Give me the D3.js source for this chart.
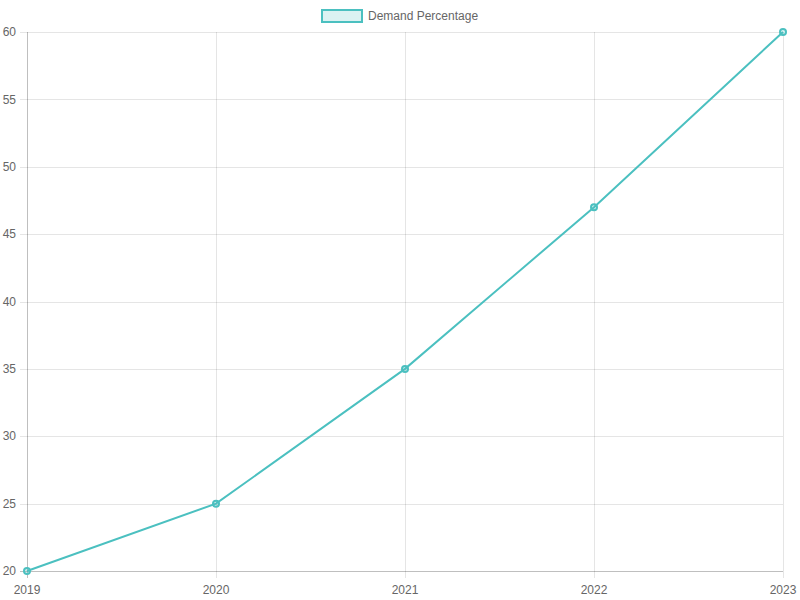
<!DOCTYPE html>
<html>
<head>
<meta charset="utf-8">
<script src="https://cdn.jsdelivr.net/npm/d3@7"></script>
<style>
  body { margin: 0; background: #fff; }
  svg { font-family: "Liberation Sans", Arial, sans-serif; }
</style>
</head>
<body>
<div id="chart"></div>
<script>
// Data
const years = ["2019", "2020", "2021", "2022", "2023"];
const demand = [20, 25, 35, 47, 60];
const yTicks = [20, 25, 30, 35, 40, 45, 50, 55, 60];
const seriesName = "Demand Percentage";

const W = 800, H = 600;
const margin = {top: 32, right: 17, bottom: 29, left: 27},
      width = W - margin.left - margin.right,
      height = H - margin.top - margin.bottom;

const color = "rgb(75,192,192)";

const svg = d3.select("#chart")
  .append("svg")
    .attr("width", W)
    .attr("height", H);

const g = svg.append("g")
    .attr("transform", `translate(${margin.left},${margin.top})`);

const x = d3.scalePoint()
  .domain(years)
  .range([0, width]);

const y = d3.scaleLinear()
  .domain([20, 60])
  .range([height, 0]);

// Horizontal grid
g.append("g")
  .selectAll("line")
  .data(yTicks)
  .join("line")
    .attr("x1", -7)
    .attr("x2", width)
    .attr("y1", d => Math.round(y(d)) + 0.5)
    .attr("y2", d => Math.round(y(d)) + 0.5)
    .attr("stroke", d => d === 20 ? "rgba(0,0,0,0.25)" : "rgba(0,0,0,0.1)");

// Vertical grid
g.append("g")
  .selectAll("line")
  .data(years)
  .join("line")
    .attr("x1", d => Math.round(x(d)) + 0.5)
    .attr("x2", d => Math.round(x(d)) + 0.5)
    .attr("y1", 0)
    .attr("y2", height + 7)
    .attr("stroke", (d, i) => i === 0 ? "rgba(0,0,0,0.25)" : "rgba(0,0,0,0.1)");

// Y labels
g.append("g")
  .selectAll("text")
  .data(yTicks)
  .join("text")
    .attr("x", -11)
    .attr("y", d => y(d))
    .attr("dy", "0.35em")
    .attr("text-anchor", "end")
    .attr("font-size", 12)
    .attr("fill", "#666")
    .text(d => d);

// X labels
g.append("g")
  .selectAll("text")
  .data(years)
  .join("text")
    .attr("x", d => x(d))
    .attr("y", height + 23)
    .attr("text-anchor", "middle")
    .attr("font-size", 12)
    .attr("fill", "#666")
    .text(d => d);

// Line
const line = d3.line()
  .x((d, i) => x(years[i]))
  .y(d => y(d));

g.append("path")
  .datum(demand)
  .attr("fill", "none")
  .attr("stroke", color)
  .attr("stroke-width", 2)
  .attr("d", line);

// Points
g.selectAll("circle")
  .data(demand)
  .join("circle")
    .attr("cx", (d, i) => x(years[i]))
    .attr("cy", d => y(d))
    .attr("r", 3)
    .attr("fill", "rgba(75,192,192,0.2)")
    .attr("stroke", color)
    .attr("stroke-width", 2);

// Legend
const legend = svg.append("g");
legend.append("rect")
  .attr("x", 322)
  .attr("y", 10)
  .attr("width", 40)
  .attr("height", 12)
  .attr("fill", "rgba(75,192,192,0.2)")
  .attr("stroke", color)
  .attr("stroke-width", 2);
legend.append("text")
  .attr("x", 368)
  .attr("y", 16)
  .attr("dy", "0.35em")
  .attr("font-size", 12)
  .attr("fill", "#666")
  .text(seriesName);
</script>
</body>
</html>
